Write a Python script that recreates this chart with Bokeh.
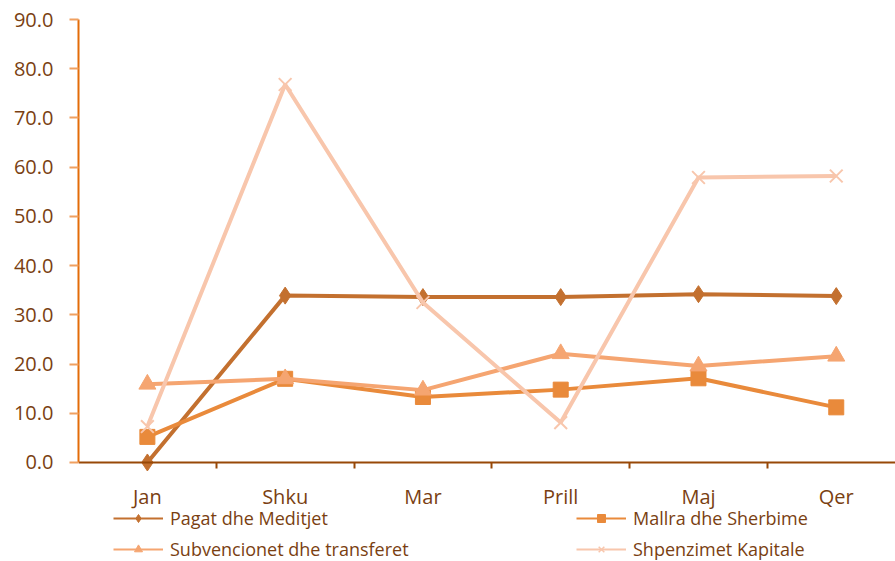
from bokeh.plotting import figure
from bokeh.models import Range1d, FixedTicker, Legend, LegendItem, ColumnDataSource
from bokeh.embed import file_html
from bokeh.resources import INLINE

months = ["Jan", "Shku", "Mar", "Prill", "Maj", "Qer"]
pagat = [0.0, 33.9, 33.6, 33.6, 34.2, 33.8]
mallra = [5.2, 17.0, 13.3, 14.8, 17.1, 11.2]
subvencionet = [15.9, 17.0, 14.7, 22.1, 19.6, 21.6]
shpenzimet = [7.3, 76.8, 32.5, 8.1, 57.9, 58.2]
series_names = ["Pagat dhe Meditjet", "Mallra dhe Sherbime",
                "Subvencionet dhe transferet", "Shpenzimet Kapitale"]
y_ticks = [0, 10, 20, 30, 40, 50, 60, 70, 80, 90]

FONT = "Open Sans"
TXT = "#7a3f12"
c1, c2, c3, c4 = "#c3702f", "#e98a3b", "#f5a571", "#f8c6ac"

# frame extends below y=0 to hold the legend; x axis is pinned at y=0
p = figure(width=895, height=561, output_backend="svg", toolbar_location=None,
           x_range=Range1d(-0.5, 5.43), y_range=Range1d(-20.12, 90),
           min_border_left=78, min_border_right=0, min_border_top=19, min_border_bottom=0)
p.outline_line_color = None
p.grid.grid_line_color = None

x = list(range(len(months)))

# x axis
xa = p.xaxis[0]
xa.fixed_location = 0
xa.ticker = FixedTicker(ticks=x, minor_ticks=[0.5, 1.5, 2.5, 3.5, 4.5])
xa.major_label_overrides = {i: m for i, m in enumerate(months)}
xa.major_tick_line_color = None
xa.major_tick_out = 0
xa.major_tick_in = 0
xa.minor_tick_line_color = "#984807"
xa.minor_tick_line_width = 2
xa.minor_tick_out = 6
xa.minor_tick_in = 0
xa.axis_line_color = "#984807"
xa.axis_line_width = 2
xa.major_label_standoff = 15
xa.major_label_text_font = FONT
xa.major_label_text_font_size = "20px"
xa.major_label_text_color = TXT

# y axis
ya = p.yaxis[0]
ya.bounds = (0, 90)
ya.ticker = FixedTicker(ticks=y_ticks)
ya.major_label_overrides = {v: f"{v:.1f}" for v in y_ticks}
ya.axis_line_color = "#e36c09"
ya.axis_line_width = 2
ya.major_tick_line_color = "#f0a060"
ya.major_tick_line_width = 2
ya.major_tick_out = 9
ya.major_tick_in = 0
ya.minor_tick_line_color = None
ya.major_label_standoff = 16
ya.major_label_text_font = FONT
ya.major_label_text_font_size = "20px"
ya.major_label_text_color = TXT

src = ColumnDataSource(dict(x=x, pagat=pagat, mallra=mallra, subv=subvencionet, shp=shpenzimet))

p.line("x", "pagat", source=src, line_color=c1, line_width=4)
p.scatter("x", "pagat", source=src, marker="diamond", size=17, fill_color=c1, line_color=c1)
p.line("x", "mallra", source=src, line_color=c2, line_width=4)
p.scatter("x", "mallra", source=src, marker="square", size=15, fill_color=c2, line_color=c2)
p.line("x", "subv", source=src, line_color=c3, line_width=4)
p.scatter("x", "subv", source=src, marker="triangle", size=17, fill_color=c3, line_color=c3)
p.line("x", "shp", source=src, line_color=c4, line_width=4)
p.scatter("x", "shp", source=src, marker="x", size=18, line_color=c4, line_width=2)

# thin legend glyphs (renderers kept off-screen so only their legend swatches show)
items = {}
for name, col, mk, sz in zip(series_names, [c1, c2, c3, c4],
                             ["diamond", "square", "triangle", "x"], [11, 9, 10, 10]):
    lr = p.line([20, 21], [200, 200], line_color=col, line_width=2)
    if mk == "x":
        sr = p.scatter([20], [200], marker=mk, size=sz, line_color=col, line_width=1.5)
    else:
        sr = p.scatter([20], [200], marker=mk, size=sz, fill_color=col, line_color=col)
    items[name] = LegendItem(label=name, renderers=[lr, sr])

# column-major fill: first column = items 0 and 2
order = [series_names[0], series_names[2], series_names[1], series_names[3]]
legend = Legend(items=[items[n] for n in order], ncols=2, location=(35, 0))
legend.glyph_width = 50
legend.glyph_height = 20
legend.label_standoff = 7
legend.spacing = 7
legend.label_width = 399
legend.label_height = 20
legend.padding = 0
legend.margin = 0
legend.border_line_color = None
legend.background_fill_alpha = 0
legend.label_text_font = FONT
legend.label_text_font_size = "18px"
legend.label_text_color = TXT
p.add_layout(legend, "center")

open("out.html", "w").write(file_html(p, INLINE))
